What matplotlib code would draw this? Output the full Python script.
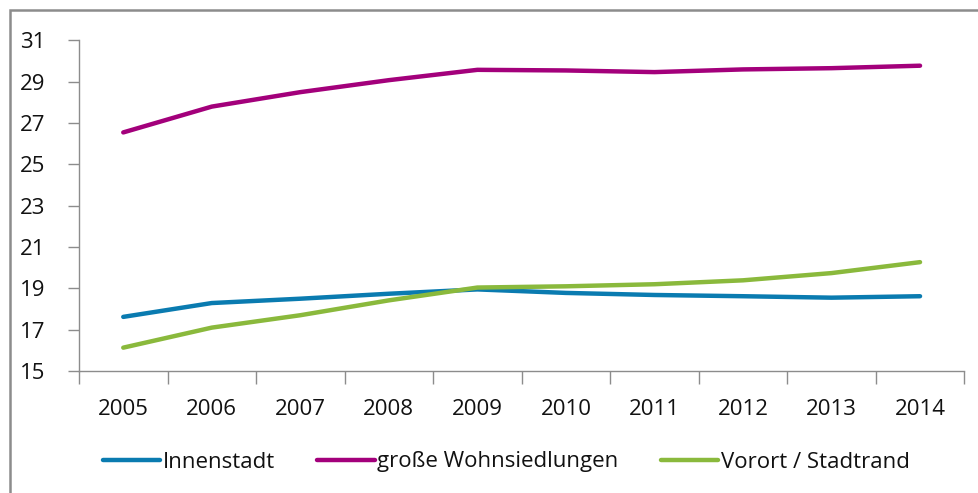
import matplotlib
matplotlib.use("Agg")
import matplotlib.pyplot as plt
from matplotlib.patches import Rectangle

# data
years = ["2005", "2006", "2007", "2008", "2009", "2010", "2011", "2012", "2013", "2014"]
innenstadt = [17.62, 18.29, 18.50, 18.74, 18.95, 18.78, 18.68, 18.62, 18.55, 18.62]
wohnsiedlungen = [26.55, 27.80, 28.50, 29.08, 29.58, 29.55, 29.47, 29.60, 29.66, 29.78]
vorort = [16.13, 17.10, 17.70, 18.42, 19.04, 19.10, 19.20, 19.39, 19.74, 20.27]

series = [
    ("Innenstadt", innenstadt, "#0a7bb0"),
    ("große Wohnsiedlungen", wohnsiedlungen, "#a3007b"),
    ("Vorort / Stadtrand", vorort, "#8ab93c"),
]

plt.rcParams["font.family"] = ["Open Sans", "DejaVu Sans"]
plt.rcParams["font.size"] = 16

fig = plt.figure(figsize=(9.79, 4.93), dpi=100)
ax = fig.add_axes([79 / 979, 1 - 371 / 493, (964.3 - 79) / 979, (371 - 40.5) / 493])

x = list(range(len(years)))
handles = []
for label, values, color in series:
    (h,) = ax.plot(x, values, color=color, lw=3.2, solid_capstyle="round",
                   solid_joinstyle="round", label=label)
    handles.append(h)

ax.set_xlim(-0.5, len(years) - 0.5)
ax.set_ylim(15, 31)
ax.set_yticks(range(15, 32, 2))
ax.set_xticks(x)
ax.set_xticklabels(years)
ax.set_xticks([i - 0.5 for i in range(len(years) + 1)], minor=True)

grey = "#8c8c8c"
for side in ["top", "right"]:
    ax.spines[side].set_visible(False)
for side in ["left", "bottom"]:
    ax.spines[side].set_color(grey)
    ax.spines[side].set_linewidth(1)

ax.tick_params(axis="y", direction="out", length=8, width=1, color=grey,
               pad=16, labelcolor="#111111")
ax.tick_params(axis="x", which="major", length=0, pad=20, labelcolor="#111111")
ax.tick_params(axis="x", which="minor", direction="out", length=9, width=1, color=grey)

fig.legend(handles=handles, loc="center", bbox_to_anchor=(506 / 979, 1 - 462 / 493),
           ncol=3, frameon=False, handlelength=2.6, handletextpad=0.1,
           columnspacing=1.9, fontsize=16, labelcolor="#111111")

# outer chart border (cropped at right and bottom in the reference)
fig.patches.append(Rectangle((10 / 979, -0.1), 1.2, 1 - 10 / 493 + 0.1,
                             transform=fig.transFigure, fill=False,
                             edgecolor="#8c8c8c", lw=1.8))

fig.savefig("out.png", dpi=100)
